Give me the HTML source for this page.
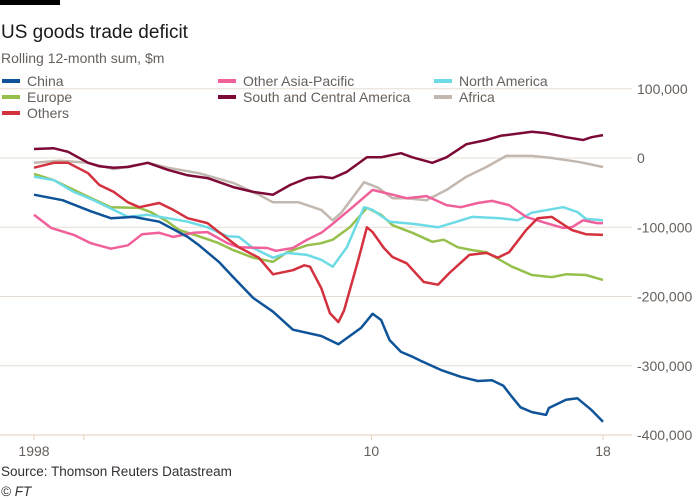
<!DOCTYPE html>
<html><head><meta charset="utf-8"><style>
body{margin:0;background:#fff;width:700px;height:500px;overflow:hidden;font-family:"Liberation Sans Narrow","Liberation Sans",sans-serif;}
svg{display:block}
</style></head><body>
<svg id="chart" width="700" height="500" viewBox="0 0 700 500" xmlns="http://www.w3.org/2000/svg">
<rect x="0" y="0" width="60" height="5" fill="#000"/>
<text x="1" y="38" font-size="19" fill="#1a1a1a">US goods trade deficit</text>
<text x="1" y="63" font-size="14" fill="#66605c">Rolling 12-month sum, $m</text>
<g id="grid"></g>
<g id="series"></g>
<g id="legend"></g>
<text x="1" y="476" font-size="13.5" fill="#33302e">Source: Thomson Reuters Datastream</text>
<text x="1" y="496" font-size="13.5" font-style="italic" fill="#33302e">© FT</text>
</svg>
<script>
const yTicks=[100000,0,-100000,-200000,-300000,-400000];
const yTickLabels=["100,000","0","-100,000","-200,000","-300,000","-400,000"];
const xTicks=[1998,2010,2018];
const xTickLabels=["1998","10","18"];
const chinaDates=[1998.0,1999.0,2000.0,2000.7,2001.5,2002.4,2003.4,2003.8,2004.5,2005.0,2005.7,2006.4,2007.1,2008.1,2008.7,2009.5,2009.9,2010.2,2010.5,2010.9,2011.3,2011.6,2012.3,2013.0,2013.6,2014.1,2014.5,2014.8,2015.1,2015.5,2016.0,2016.1,2016.7,2017.1,2017.6,2018.0];
const chinaValues=[-53,-61,-77,-87,-85,-92,-114,-126,-150,-172,-202,-222,-248,-257,-269,-245,-225,-234,-263,-280,-287,-293,-306,-316,-322,-321,-329,-345,-360,-367,-371,-361,-349,-347,-364,-381];
const scaDates=[1998.0,1998.7,1999.2,1999.9,2000.3,2000.8,2001.3,2002.0,2002.7,2003.4,2004.1,2005.0,2005.7,2006.4,2007.0,2007.6,2008.1,2008.5,2009.0,2009.7,2010.2,2010.9,2011.3,2012.0,2012.5,2013.2,2013.9,2014.4,2015.5,2016.0,2016.7,2017.3,2017.6,2018.0];
const scaValues=[13,14,9,-7,-12,-14,-13,-7,-17,-25,-29,-42,-49,-53,-39,-29,-27,-29,-20,1,1,7,1,-7,1,20,26,32,38,36,30,26,30,33];
const africaDates=[1998.0,1998.9,1999.9,2000.8,2002.0,2002.7,2003.8,2005.0,2005.9,2006.4,2007.3,2008.1,2008.5,2008.8,2009.6,2010.1,2010.6,2011.1,2011.8,2012.5,2013.2,2013.9,2014.6,2015.5,2016.2,2017.2,2018.0];
const africaValues=[-7,-4,-7,-16,-7,-14,-22,-36,-53,-64,-64,-75,-90,-79,-35,-43,-58,-58,-61,-46,-27,-13,3,3,0,-6,-13];
const othersDates=[1998.0,1998.7,1999.2,1999.9,2000.3,2000.8,2001.3,2001.7,2002.4,2002.9,2003.4,2004.1,2004.5,2005.2,2005.9,2006.4,2007.1,2007.5,2007.7,2008.1,2008.4,2008.7,2008.9,2009.4,2009.7,2009.9,2010.3,2010.6,2011.1,2011.7,2012.2,2012.6,2013.3,2013.9,2014.3,2014.7,2015.3,2015.7,2016.2,2016.9,2017.4,2018.0];
const othersValues=[-14,-7,-7,-22,-39,-49,-64,-71,-65,-75,-87,-94,-107,-129,-144,-168,-162,-155,-157,-188,-224,-237,-220,-147,-100,-107,-130,-143,-152,-179,-183,-166,-140,-137,-144,-136,-104,-87,-85,-104,-110,-111];
const europeDates=[1998.0,1998.7,1999.2,1999.9,2000.7,2001.7,2002.1,2002.7,2003.1,2003.8,2004.5,2005.0,2005.7,2006.4,2006.9,2007.6,2008.1,2008.5,2009.1,2009.7,2010.2,2010.6,2011.3,2012.0,2012.4,2012.9,2013.4,2013.9,2014.8,2015.5,2016.2,2016.7,2017.4,2018.0];
const europeValues=[-23,-32,-42,-56,-71,-72,-78,-92,-104,-113,-123,-133,-144,-150,-136,-126,-123,-118,-100,-72,-82,-97,-108,-121,-118,-129,-133,-136,-157,-169,-172,-168,-169,-176];
const naDates=[1998.0,1998.7,1999.4,2000.1,2000.8,2001.3,2002.0,2002.7,2003.4,2004.1,2004.8,2005.2,2005.7,2006.4,2006.9,2007.6,2008.1,2008.5,2009.0,2009.6,2009.9,2010.5,2011.3,2012.2,2012.7,2013.4,2014.4,2015.0,2015.5,2016.6,2017.1,2017.4,2018.0];
const naValues=[-27,-32,-49,-61,-75,-85,-82,-87,-92,-100,-113,-114,-130,-144,-137,-140,-147,-157,-129,-71,-75,-92,-95,-100,-94,-85,-87,-90,-79,-71,-78,-88,-90];
const oapDates=[1998.0,1998.6,1999.4,2000.0,2000.7,2001.3,2001.8,2002.4,2002.9,2003.6,2004.1,2004.8,2005.2,2006.2,2006.5,2007.1,2007.6,2008.1,2008.5,2009.2,2009.9,2010.6,2011.1,2011.8,2012.5,2013.0,2013.6,2014.1,2014.7,2015.3,2016.0,2016.6,2016.9,2017.3,2017.8,2018.0];
const oapValues=[-82,-101,-111,-123,-131,-126,-110,-108,-114,-108,-107,-123,-129,-130,-134,-130,-118,-108,-95,-71,-46,-53,-58,-55,-68,-71,-65,-62,-68,-85,-94,-101,-100,-90,-94,-94];

const NS="http://www.w3.org/2000/svg";
function xs(t){return 34+(t-1998)*28.45;}
function ys(v){return 158-v*0.6925/1000;}
const grid=document.getElementById('grid');
yTicks.forEach((v,i)=>{
  const l=document.createElementNS(NS,'line');
  
  
  l.setAttribute('x1',0);l.setAttribute('x2',632);
  l.setAttribute('y1',ys(v));l.setAttribute('y2',ys(v));
  l.setAttribute('stroke',v===-400000?'#e3cfbd':'#e6ddd4');l.setAttribute('stroke-width',1);
  grid.appendChild(l);
  const t=document.createElementNS(NS,'text');
  
  
  t.setAttribute('x',637);t.setAttribute('y',ys(v)+5);
  t.setAttribute('font-size','14');t.setAttribute('fill','#66605c');
  t.textContent=yTickLabels[i];grid.appendChild(t);
});
xTicks.concat([1999.75]).forEach((yr,i)=>{
  const px=yr===2010?xs(yr)-4:xs(yr);
  const l=document.createElementNS(NS,'line');
  
  
  l.setAttribute('x1',px);l.setAttribute('x2',px);
  l.setAttribute('y1',ys(-400000));l.setAttribute('y2',ys(-400000)+5);
  l.setAttribute('stroke','#e3cfbd');grid.appendChild(l);
  if(i<xTickLabels.length){
    const t=document.createElementNS(NS,'text');
    
    
    t.setAttribute('x',px);t.setAttribute('y',456);
    t.setAttribute('text-anchor','middle');
    t.setAttribute('font-size','14');t.setAttribute('fill','#66605c');
    t.textContent=xTickLabels[i];grid.appendChild(t);
  }
});
const series=[
 ['africa',africaDates,africaValues,'#c2b8b0'],
 ['south-central-america',scaDates,scaValues,'#7d0937'],
 ['europe',europeDates,europeValues,'#96bf4c'],
 ['north-america',naDates,naValues,'#6ddbe6'],
 ['other-asia-pacific',oapDates,oapValues,'#f0609a'],
 ['others',othersDates,othersValues,'#d4313f'],
 ['china',chinaDates,chinaValues,'#0f5499']
];
const sg=document.getElementById('series');
series.forEach(s=>{
  const p=document.createElementNS(NS,'polyline');
  
  
  p.setAttribute('points',s[1].map((d,i)=>xs(d).toFixed(1)+','+ys(s[2][i]*1000).toFixed(1)).join(' '));
  p.setAttribute('fill','none');p.setAttribute('stroke',s[3]);
  p.setAttribute('stroke-width','2.5');p.setAttribute('stroke-linejoin','round');
  sg.appendChild(p);
});
const legendItems=[['China','#0f5499',2,86],['Europe','#96bf4c',2,102],['Others','#d4313f',2,118],
 ['Other Asia-Pacific','#f0609a',218,86],['South and Central America','#7d0937',218,102],
 ['North America','#6ddbe6',434,86],['Africa','#c2b8b0',434,102]];
const lg=document.getElementById('legend');
legendItems.forEach(it=>{
  const r=document.createElementNS(NS,'rect');
  
  
  r.setAttribute('x',it[2]);r.setAttribute('y',it[3]-7);r.setAttribute('width',18);r.setAttribute('height',4);
  r.setAttribute('fill',it[1]);lg.appendChild(r);
  const t=document.createElementNS(NS,'text');
  
  
  t.setAttribute('x',it[2]+25);t.setAttribute('y',it[3]);
  t.setAttribute('font-size','14');t.setAttribute('fill','#66605c');
  t.textContent=it[0];lg.appendChild(t);
});
</script>
</body></html>
